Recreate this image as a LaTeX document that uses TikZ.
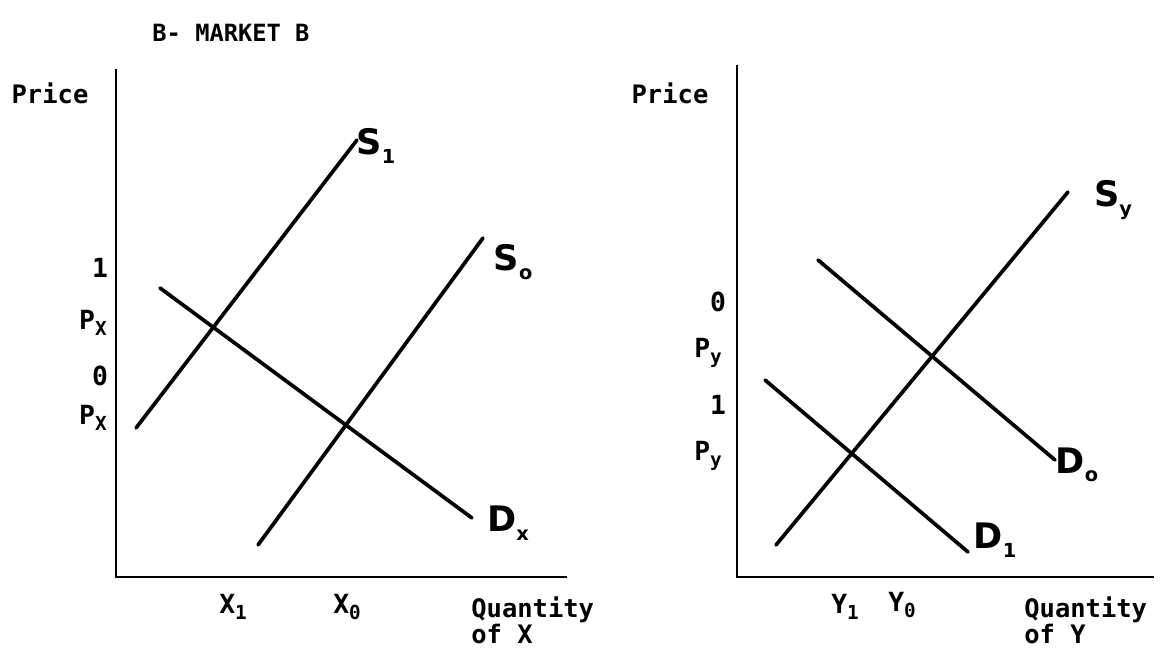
\documentclass[tikz,border=0pt]{standalone}
\usepackage{fontspec}
\setmonofont{DejaVu Sans Mono}
\newfontfamily\handfont{DejaVu Sans}
\usetikzlibrary{positioning}
\tikzset{
  axisline/.style={line width=1.6pt},
  curveline/.style={line width=2.1pt, line cap=round},
  axlabel/.style={font=\ttfamily\bfseries\fontsize{14.5}{15}\selectfont, inner sep=0pt},
  ticklabel/.style={font=\ttfamily\bfseries\fontsize{15}{17}\selectfont, inner sep=0pt},
  curvelabel/.style={font=\handfont\bfseries\fontsize{20}{22}\selectfont, inner sep=0pt},
  titlelabel/.style={font=\ttfamily\bfseries\fontsize{13.5}{15}\selectfont, inner sep=0pt}
}
\newcommand{\lowsub}[1]{\raisebox{-0.45ex}{\fontsize{11}{12}\selectfont #1}}

\begin{document}
\begin{tikzpicture}[x=0.02cm, y=-0.02cm]
\useasboundingbox (0,0) rectangle (1161,658);

\node[titlelabel] (title) at (231,33) {B- MARKET B};

% market for X
\coordinate (ox) at (116,577);
\coordinate (oxtop) at (116,69);
\coordinate (oxend) at (567,577);
\draw[axisline] (oxtop) -- (ox) -- (oxend);
\node[axlabel] (pricex) at (50,93) {Price};
\node[ticklabel] (px1n) at (100,268) {1};
\node[ticklabel] (px1) at (93,323) {P\lowsub{X}};
\node[ticklabel] (px0n) at (100,376) {0};
\node[ticklabel] (px0) at (93,418) {P\lowsub{X}};
\node[ticklabel] (x1) at (233,607) {X\lowsub{1}};
\node[ticklabel] (x0) at (347,607) {X\lowsub{0}};
\node[axlabel, anchor=north west, align=left] (qx) at (471,596) {Quantity\\of X};

\coordinate (s1a) at (136,428);
\coordinate (s1b) at (357,140);
\coordinate (s0a) at (258,545);
\coordinate (s0b) at (483,238);
\coordinate (dxa) at (160,288);
\coordinate (dxb) at (472,518);
\draw[curveline] (s1a) -- (s1b);
\draw[curveline] (s0a) -- (s0b);
\draw[curveline] (dxa) -- (dxb);
\node[curvelabel] (s1) at (376,146) {S\lowsub{1}};
\node[curvelabel] (s0) at (513,262) {S\lowsub{o}};
\node[curvelabel] (dx) at (508,523) {D\lowsub{x}};

% market for Y
\coordinate (oy) at (737,577);
\coordinate (oytop) at (737,65);
\coordinate (oyend) at (1154,577);
\draw[axisline] (oytop) -- (oy) -- (oyend);
\node[axlabel] (pricey) at (670,93) {Price};
\node[ticklabel] (py0n) at (718,302) {0};
\node[ticklabel] (py0) at (708,353) {P\lowsub{y}};
\node[ticklabel] (py1n) at (718,405) {1};
\node[ticklabel] (py1) at (708,456) {P\lowsub{y}};
\node[ticklabel] (y1) at (845,607) {Y\lowsub{1}};
\node[ticklabel] (y0) at (902,605) {Y\lowsub{0}};
\node[axlabel, anchor=north west, align=left] (qy) at (1024,596) {Quantity\\of Y};

\coordinate (sya) at (776,545);
\coordinate (syb) at (1068,192);
\coordinate (doa) at (818,260);
\coordinate (dob) at (1055,460);
\coordinate (d1a) at (765,380);
\coordinate (d1b) at (968,552);
\draw[curveline] (sya) -- (syb);
\draw[curveline] (doa) -- (dob);
\draw[curveline] (d1a) -- (d1b);
\node[curvelabel] (sy) at (1113,200) {S\lowsub{y}};
\node[curvelabel] (do) at (1077,465) {D\lowsub{o}};
\node[curvelabel] (d1) at (995,540) {D\lowsub{1}};
\end{tikzpicture}
\end{document}
